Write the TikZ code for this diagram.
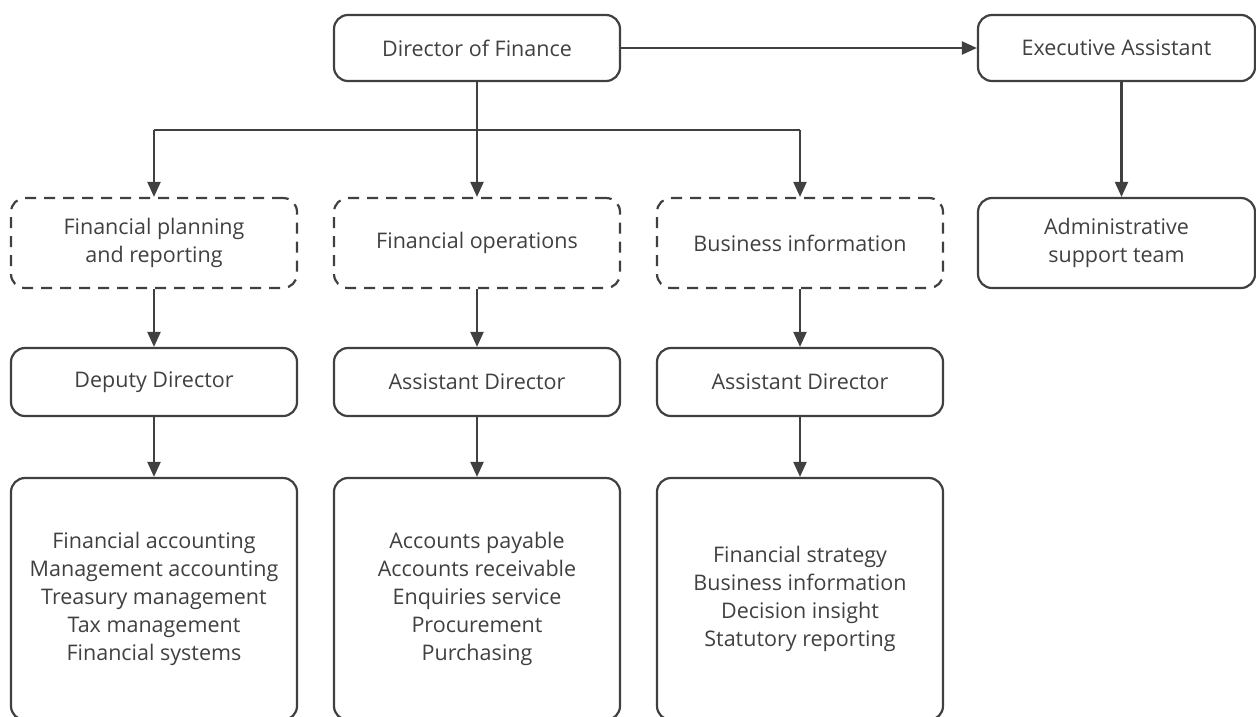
\documentclass[tikz,border=0pt]{standalone}
\usepackage{fontspec}
\setmainfont{Open Sans}
\usetikzlibrary{arrows.meta}
\definecolor{ink}{HTML}{404040}
\begin{document}
\begin{tikzpicture}[x=1pt,y=-1pt,
 box/.style={draw=ink, line width=2.2pt, rounded corners=14pt, text=ink, align=center, font=\fontsize{21.5}{28}\selectfont, inner sep=0pt},
 dbox/.style={box, dash pattern=on 11pt off 8pt},
 line/.style={draw=ink, line width=2.2pt},
 conn/.style={line, -{Triangle[length=15pt,width=13pt]}}]
\useasboundingbox (0,0) rectangle (1256,716);
\node[box, minimum width=286pt, minimum height=66pt] (dof) at (477,48) {Director of Finance};
\node[box, minimum width=277pt, minimum height=66pt] (ea) at (1116.5,48) {Executive Assistant};
\node[dbox, minimum width=286pt, minimum height=90pt] (fpr) at (154,243) {Financial planning\\and reporting};
\node[dbox, minimum width=286pt, minimum height=90pt] (fo) at (477,243) {Financial operations};
\node[dbox, minimum width=286pt, minimum height=90pt] (bi) at (800,243) {Business information};
\node[box, minimum width=277pt, minimum height=90pt] (ast) at (1116.5,243) {Administrative\\support team};
\node[box, minimum width=286pt, minimum height=68pt] (dd) at (154,382) {Deputy Director};
\node[box, minimum width=286pt, minimum height=68pt] (ad1) at (477,382) {Assistant Director};
\node[box, minimum width=286pt, minimum height=68pt] (ad2) at (800,382) {Assistant Director};
\node[box, minimum width=286pt, minimum height=242pt] (l1) at (154,599) {Financial accounting\\Management accounting\\Treasury management\\Tax management\\Financial systems};
\node[box, minimum width=286pt, minimum height=242pt] (l2) at (477,599) {Accounts payable\\Accounts receivable\\Enquiries service\\Procurement\\Purchasing};
\node[box, minimum width=286pt, minimum height=242pt] (l3) at (800,599) {Financial strategy\\Business information\\Decision insight\\Statutory reporting};
\coordinate (bus) at (0,130);
\draw[conn] (dof.east) -- (ea.west);
\draw[conn] (dof.south) -- (fo.north);
\draw[line] (fpr.north |- bus) -- (bi.north |- bus);
\draw[conn] (fpr.north |- bus) -- (fpr.north);
\draw[conn] (bi.north |- bus) -- (bi.north);
\draw[conn] ([xshift=5pt]ea.south) -- ([xshift=5pt]ast.north);
\draw[conn] (fpr.south) -- (dd.north);
\draw[conn] (fo.south) -- (ad1.north);
\draw[conn] (bi.south) -- (ad2.north);
\draw[conn] (dd.south) -- (l1.north);
\draw[conn] (ad1.south) -- (l2.north);
\draw[conn] (ad2.south) -- (l3.north);
\end{tikzpicture}
\end{document}
